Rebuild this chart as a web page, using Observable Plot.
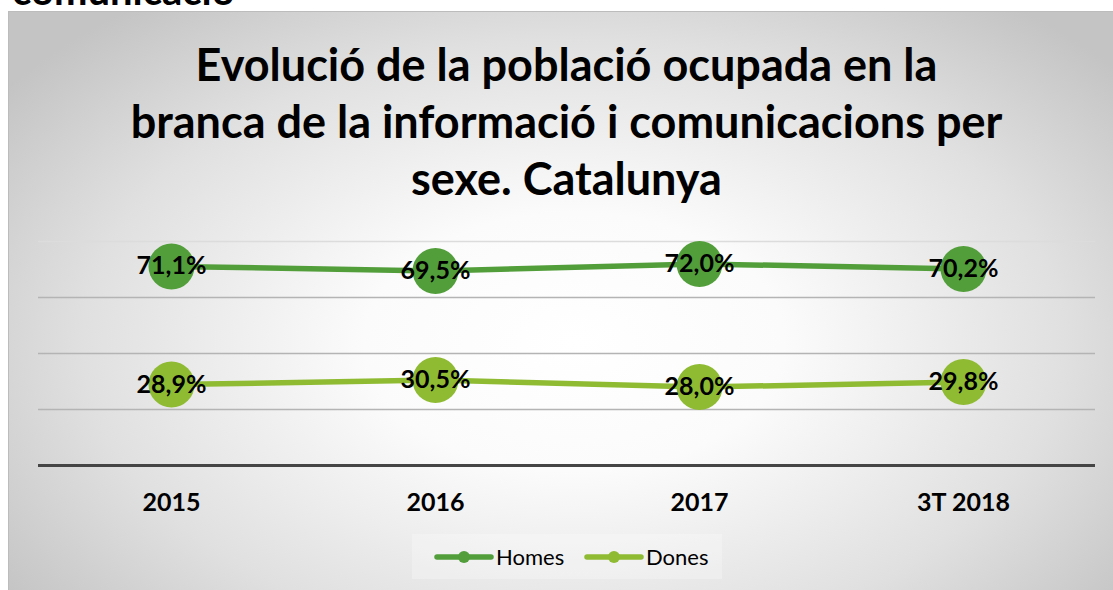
<!DOCTYPE html>
<html>
<head>
<meta charset="utf-8">
<script src="https://cdn.jsdelivr.net/npm/d3@7"></script>
<script src="https://cdn.jsdelivr.net/npm/@observablehq/plot@0.6"></script>
<style>
  html, body { margin: 0; padding: 0; background: #fff; }
  #wrap { position: relative; width: 1113px; height: 590px; overflow: hidden; font-family: Lato, "Open Sans", sans-serif; }
  #cut { position: absolute; left: 12px; top: -30px; font-size: 40px; font-weight: bold; color: #000; line-height: 40px; white-space: nowrap; }
  #frame { position: absolute; left: 8px; top: 11px; width: 1130px; height: 600px; border: 1px solid #bcbcbc;
    background: radial-gradient(ellipse 62% 72% at 50% 55%, #ffffff 0%, #fbfbfb 30%, #e0e0e0 70%, #c4c4c4 100%); }
  #title { position: absolute; left: 0; width: 1133px; top: 36px; text-align: center; font-size: 45px; font-weight: bold; line-height: 57px; color: #000; }
  #chart { position: absolute; left: 0; top: 220px; }
  #legend { position: absolute; left: 412px; top: 534px; width: 310px; height: 45px; background: rgba(255,255,255,0.25); }
  .li { position: absolute; top: 0; height: 45px; display: flex; align-items: center; font-size: 22px; color: #000; }
</style>
</head>
<body>
<div id="wrap">
  <div id="cut">comunicació</div>
  <div id="frame"></div>
  <div id="title">Evolució de la població ocupada en la<br>branca de la informació i comunicacions per<br>sexe. Catalunya</div>
  <div id="chart"></div>
  <div id="legend"></div>
</div>
<script>
const categories = ["2015", "2016", "2017", "3T 2018"];
const homes = [71.1, 69.5, 72.0, 70.2];
const dones = [28.9, 30.5, 28.0, 29.8];
const seriesNames = ["Homes", "Dones"];
const seriesColors = ["#529e3a", "#8fbb33"];
const gridTicks = [20, 40, 60, 80];

const data = [];
categories.forEach((c, i) => {
  data.push({cat: c, serie: "Homes", value: homes[i]});
  data.push({cat: c, serie: "Dones", value: dones[i]});
});
const fmt = v => v.toFixed(1).replace(".", ",") + "%";

const plot = Plot.plot({
  width: 1113,
  height: 300,
  marginLeft: 38,
  marginRight: 18,
  marginTop: 21,
  marginBottom: 55,
  style: {background: "transparent", fontFamily: "Lato, 'Open Sans', sans-serif", overflow: "visible"},
  x: {type: "point", domain: categories, padding: 0.5, label: null},
  y: {domain: [0, 80], axis: null},
  color: {domain: seriesNames, range: seriesColors},
  marks: [
    Plot.ruleY(gridTicks, {stroke: d => d === 80 ? "#dcdcdc" : "#b4b4b4", strokeWidth: 1.4}),
    Plot.ruleY([0], {stroke: "#454545", strokeWidth: 3.2}),
    Plot.axisX({tickSize: 0, tickPadding: 28, fontSize: 25, fontWeight: "bold", fill: "#000"}),
    Plot.line(data, {x: "cat", y: "value", z: "serie", stroke: "serie", strokeWidth: 5.5}),
    Plot.dot(data, {x: "cat", y: "value", fill: "serie", r: 23, stroke: null}),
    Plot.text(data, {x: "cat", y: "value", text: d => fmt(d.value), fontSize: 25, fontWeight: "bold", fill: "#000"})
  ]
});
document.getElementById("chart").appendChild(plot);

// legend
const legend = document.getElementById("legend");
const lx = [22, 172];
seriesNames.forEach((s, i) => {
  const item = document.createElement("div");
  item.className = "li";
  item.style.left = lx[i] + "px";
  item.innerHTML = `<svg width="60" height="14" style="margin-right:2px"><line x1="3" x2="57" y1="7" y2="7" stroke="${seriesColors[i]}" stroke-width="5.5" stroke-linecap="round"/><circle cx="30" cy="7" r="6" fill="${seriesColors[i]}"/></svg><span>${s}</span>`;
  legend.appendChild(item);
});
</script>
</body>
</html>
